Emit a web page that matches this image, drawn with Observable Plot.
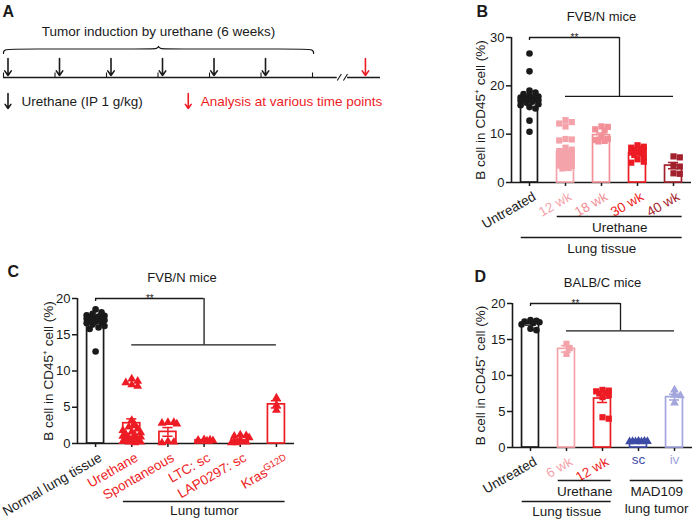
<!DOCTYPE html>
<html>
<head>
<meta charset="utf-8">
<script src="https://cdn.jsdelivr.net/npm/d3@7"></script>
<script src="https://cdn.jsdelivr.net/npm/@observablehq/plot@0.6"></script>
<style>
  body { margin: 0; background: #fff; }
  #root { position: relative; width: 694px; height: 520px; overflow: hidden; background: #fff; }
</style>
</head>
<body>
<div id="root"></div>
<script>
// ================= DATA =================
// Panel A: urethane schedule (weeks)
const injectionWeeks = [0, 1, 2, 3, 4, 5];
const timelineWeeks = [0, 1, 2, 3, 4, 5, 6];
const analysisWeeks = [6.94];
const braceWeeks = [0, 6.02];
const timelineEndWeek = 7.32;
const breakWeek = 6.54;
const aTitle = "Tumor induction by urethane (6 weeks)";
const aLegendLabels = ["Urethane (IP 1 g/kg)", "Analysis at various time points"];

// Panel B: FVB/N mice
const bCategories = ["Untreated", "12 wk", "18 wk", "30 wk", "40 wk"];
const bMeans = [17.3, 6.3, 9.8, 6.1, 3.5];
const bSEM = [0.65, 0.55, 0.45, 0.3, 0.65];
const bUntreated = [26.7, 23.0, 19.0, 18.6, 18.3, 18.0, 17.8, 17.6, 17.5, 17.4, 17.3, 17.2, 17.1, 17.0, 16.9, 16.7, 16.5, 16.2, 16.0, 15.6, 15.3, 12.8, 10.5];
const b12wk = [12.9, 12.5, 12.2, 11.6, 9.0, 8.9, 8.7, 7.2, 6.8, 6.5, 6.3, 6.0, 5.8, 5.6, 5.3, 5.0, 5.0, 4.8, 4.5, 4.4, 4.2, 4.0, 3.9, 3.5, 3.4, 3.2, 3.0, 2.9];
const b18wk = [11.6, 11.5, 11.0, 10.8, 9.3, 9.0, 8.8, 8.6, 8.5];
const b30wk = [7.7, 7.4, 7.2, 7.0, 6.8, 6.6, 6.4, 6.2, 6.0, 5.7, 5.4, 4.8, 4.3, 4.1];
const b40wk = [5.4, 5.2, 3.4, 3.3, 1.9, 1.8];
const bYTicks = [0, 10, 20, 30];
const bGroups = [
  {label: "Urethane", from: 1, to: 4, row: 0},
  {label: "Lung tissue", from: 0, to: 4, row: 1}
];
const bBracket = {top: 30, low: 17.8, from: 1, to: 4};

// Panel C: FVB/N mice, lung tumors
const cCategories = ["Normal lung tissue", "Urethane", "Spontaneous", "LTC: sc", "LAP0297: sc", "Kras"];
const cSuperscripts = ["", "", "", "", "", "G12D"];
const cMeans = [17.0, 2.8, 1.6, 0.45, 0.4, 5.4];
const cSEM = [0.25, 0.6, 0.6, 0.05, 0.15, 0.5];
const cNormal = [18.5, 18.1, 17.9, 17.7, 17.6, 17.5, 17.4, 17.3, 17.2, 17.2, 17.1, 17.0, 17.0, 16.9, 16.8, 16.7, 16.6, 16.4, 16.2, 16.0, 15.8, 12.7];
const cUrethane = [8.9, 8.6, 8.4, 8.1, 7.9, 3.2, 2.6, 2.3, 2.0, 1.8, 1.6, 1.5, 1.3, 1.2, 1.0, 0.9, 0.8, 0.7, 0.6, 0.5, 0.4, 0.3, 0.2, 0.2, 0.1];
const cSpontaneous = [2.9, 2.9, 2.8, 2.7, 0.3, 0.2, 0.1];
const cLTC = [0.55, 0.5, 0.45, 0.4, 0.35];
const cLAP0297 = [1.2, 1.1, 1.0, 0.8, 0.5, 0.3, 0.2, 0.1, 0.1];
const cKras = [6.3, 5.3, 4.6];
const cYTicks = [0, 5, 10, 15, 20];
const cGroups = [{label: "Lung tumor", from: 1, to: 5, row: 0}];
const cBracket = {top: 20, low: 13.6, from: 1, to: 5};

// Panel D: BALB/C mice
const dCategories = ["Untreated", "6 wk", "12 wk", "sc", "iv"];
const dMeans = [17.2, 13.7, 6.8, 0.85, 7.0];
const dSEM = [0.2, 0.45, 0.55, 0.05, 0.4];
const dUntreated = [17.7, 17.6, 17.5, 17.4, 17.3, 17.1, 16.5, 16.3];
const d6wk = [14.4, 13.8, 13.0];
const d12wk = [8.0, 7.9, 7.8, 7.6, 7.5, 7.3, 7.0, 4.2, 4.0];
const dSc = [0.9, 0.9, 0.85, 0.85, 0.8, 0.8, 0.8];
const dIv = [8.0, 7.3, 7.2, 6.2];
const dYTicks = [0, 5, 10, 15, 20];
const dGroups = [
  {label: "Urethane", from: 1, to: 2, row: 0},
  {label: "MAD109\nlung tumor", from: 3, to: 4, row: 0},
  {label: "Lung tissue", from: 0, to: 2, row: 1}
];
const dBracket = {top: 20, low: 16.2, from: 1, to: 4};

const yLabel = "B cell in CD45\u207A cell (%)";

// ================= STYLE =================
const FONT = '"Liberation Sans", Arial, Helvetica, sans-serif';
const INK = "#1a1a1a";
const RED = "#ed1c24";
const PINK_LIGHT = "#f5a3aa";
const PINK = "#f28f97";
const DARK_RED = "#a3212c";
const BLUE = "#3c4ba6";
const LAVENDER = "#a3a6dc";
const TXT = 13.5;
const baseStyle = {fontFamily: FONT, fontSize: "13px", color: INK, background: "transparent", overflow: "visible"};

// ================= HELPERS =================
function swarmOffsets(values, pxPerY, maxPx, r) {
  const order = values.map((_, k) => k).sort((a, b) => values[b] - values[a]);
  const placed = [];
  const off = new Array(values.length).fill(0);
  const stepPx = r * 0.9, minDist = r * 1.45;
  const nSteps = Math.max(1, Math.floor(maxPx / stepPx));
  for (const k of order) {
    const y = values[k] * pxPerY;
    let best = 0, bestD = -1;
    for (let s = 0; s <= 2 * nSteps; s++) {
      const cand = (s % 2 ? 1 : -1) * Math.ceil(s / 2) * stepPx;
      let d = Infinity;
      for (const p of placed) d = Math.min(d, Math.hypot(p.x - cand, p.y - y));
      if (d >= minDist) { best = cand; bestD = Infinity; break; }
      if (d > bestD) { bestD = d; best = cand; }
    }
    placed.push({x: best, y});
    off[k] = best;
  }
  return off;
}

function barPanel(cfg) {
  const {cats, means, sems, points, yMax, yTicks, colors, labelColors, symbols, margin, width, height} = cfg;
  const n = cats.length;
  const innerW = width - margin.left - margin.right;
  const innerH = height - margin.top - margin.bottom;
  const pxX = innerW / n, pxY = innerH / yMax;
  const hw = 0.235, cap = 0.14;
  const rOf = {circle: 3.3, square: 3.5, triangle: 3.3};
  const marks = [];

  marks.push(Plot.axisY({ticks: yTicks, tickSize: 5, tickPadding: 2, fontSize: 13, strokeWidth: 1.5, label: null}));
  marks.push(Plot.axisX({ticks: d3.range(n), tickSize: 4, strokeWidth: 1.5, tickFormat: () => "", label: null}));
  marks.push(Plot.ruleX([-0.5], {y1: 0, y2: yMax, strokeWidth: 1.6}));
  marks.push(Plot.ruleY([0], {x1: -0.5, x2: n - 0.5, strokeWidth: 1.6}));

  // bars
  cats.forEach((c, i) => {
    marks.push(Plot.rect([means[i]], {x1: i - hw, x2: i + hw, y1: 0, y2: d => d, fill: "white", stroke: colors[i], strokeWidth: 1.7}));
  });
  // points
  points.forEach((vals, i) => {
    const r = rOf[symbols[i]];
    const off = swarmOffsets(vals, pxY, cfg.spread, r);
    const data = vals.map((v, k) => ({x: i + off[k] / pxX, y: v}));
    marks.push(Plot.dot(data, {x: "x", y: "y", r, symbol: symbols[i], fill: colors[i], stroke: "none"}));
  });
  // error bars (mean ± SEM)
  cats.forEach((c, i) => {
    const lo = means[i] - sems[i], hi = means[i] + sems[i];
    marks.push(Plot.ruleX([i], {y1: lo, y2: hi, stroke: colors[i], strokeWidth: 1.5}));
    marks.push(Plot.ruleY([lo, hi], {x1: i - cap, x2: i + cap, stroke: colors[i], strokeWidth: 1.5}));
  });
  // significance bracket
  const br = cfg.bracket;
  const mid = (br.from + br.to) / 2;
  marks.push(Plot.ruleY([br.top], {x1: 0, x2: mid, strokeWidth: 1.3}));
  marks.push(Plot.ruleX([0], {y1: br.top, y2: br.top - 3 / pxY, strokeWidth: 1.3}));
  marks.push(Plot.ruleX([mid], {y1: br.top, y2: br.low, strokeWidth: 1.3}));
  marks.push(Plot.ruleY([br.low], {x1: br.from, x2: br.to, strokeWidth: 1.3}));
  marks.push(Plot.text(["**"], {x: mid / 2, y: br.top, text: d => d, lineAnchor: "bottom", dy: 3, fontSize: 10}));

  // category labels
  cats.forEach((c, i) => {
    const hasSup = cfg.superscripts && cfg.superscripts[i];
    if (cfg.rotate[i]) {
      marks.push(Plot.text([c], {x: i, frameAnchor: "bottom", text: d => d, rotate: -30, textAnchor: "end", lineAnchor: "middle",
        dx: cfg.labelDx + (hasSup ? -15 : 0), dy: cfg.labelDy + (hasSup ? 15 : 0), fill: labelColors[i], fontSize: TXT}));
    } else {
      marks.push(Plot.text([c], {x: i, frameAnchor: "bottom", text: d => d, lineAnchor: "middle", dy: 12, fill: labelColors[i], fontSize: TXT}));
    }
    if (hasSup) {
      marks.push(Plot.text([cfg.superscripts[i]], {x: i, frameAnchor: "bottom", text: d => d, rotate: -30, textAnchor: "end", lineAnchor: "middle",
        dx: cfg.labelDx + 4, dy: cfg.labelDy, fill: labelColors[i], fontSize: 9.5}));
    }
  });
  // group annotations below the axis
  cfg.groups.forEach(g => {
    marks.push(Plot.ruleY([0], {x1: g.from - 0.23, x2: g.to + 0.24, dy: cfg.groupLineDy[g.row], strokeWidth: 1.3}));
    marks.push(Plot.text([g.label], {x: (g.from + g.to) / 2 + 0.005, frameAnchor: "bottom", text: d => d, lineAnchor: "top",
      dy: cfg.groupTextDy[g.row] - 7, fontSize: TXT, lineHeight: 1.25}));
  });
  // title, y label, panel letter
  marks.push(Plot.text([cfg.title], {frameAnchor: "top", text: d => d, lineAnchor: "middle", dx: cfg.titleDx || 0, dy: -21, fontSize: 13}));
  marks.push(Plot.text([yLabel], {frameAnchor: "left", text: d => d, rotate: -90, textAnchor: "middle", lineAnchor: "middle", dx: cfg.yLabelDx, fontSize: TXT}));
  marks.push(Plot.text([cfg.letter], {frameAnchor: "top-left", text: d => d, textAnchor: "start", lineAnchor: "top",
    dx: cfg.letterDx, dy: cfg.letterDy, fontSize: 16, fontWeight: "bold"}));

  const svg = Plot.plot({
    width, height,
    marginTop: margin.top, marginRight: margin.right, marginBottom: margin.bottom, marginLeft: margin.left,
    x: {domain: [-0.5, n - 0.5]},
    y: {domain: [0, yMax]},
    style: baseStyle,
    marks
  });
  svg.style.position = "absolute";
  svg.style.left = cfg.left + "px";
  svg.style.top = cfg.top + "px";
  return svg;
}

function timelinePanel() {
  const yTitle = 31, yBraceEnd = 53, yBraceMid = 48.5, yBracePeak = 44.5;
  const yArrowTop = 58, yArrowTip = 75, yTickTop = 72.5, yLine = 77;
  const yLegTop = 93, yLegTip = 108, yLegText = 101;
  const [b0, b1] = braceWeeks;
  const c = (b0 + b1) / 2;
  const brace = [
    [b0, yBraceEnd], [b0, yBraceMid], [b0 + 0.3, yBraceMid], [c - 0.25, yBraceMid], [c, yBraceMid], [c, yBracePeak],
    [c, yBraceMid], [c + 0.25, yBraceMid], [b1 - 0.3, yBraceMid], [b1, yBraceMid], [b1, yBraceEnd]
  ];
  const svg = Plot.plot({
    width: 400, height: 118,
    marginTop: 0, marginBottom: 0, marginLeft: 3, marginRight: 20,
    x: {domain: [0, timelineEndWeek], axis: null},
    y: {domain: [0, 118], range: [0, 118], axis: null},
    style: baseStyle,
    marks: [
      Plot.text(["A"], {frameAnchor: "top-left", text: d => d, textAnchor: "start", lineAnchor: "top", dx: -1, dy: 5, fontSize: 16, fontWeight: "bold"}),
      Plot.text([aTitle], {x: c, y: yTitle, text: d => d, lineAnchor: "middle", fontSize: TXT}),
      Plot.line(brace, {x: d => d[0], y: d => d[1], curve: "basis", strokeWidth: 1.2}),
      Plot.ruleY([yLine], {x1: 0, x2: breakWeek - 0.06, strokeWidth: 1.3}),
      Plot.ruleY([yLine], {x1: breakWeek + 0.14, x2: timelineEndWeek, strokeWidth: 1.3}),
      Plot.link([breakWeek - 0.06, breakWeek + 0.06], {x1: d => d, x2: d => d + 0.08, y1: yLine + 3, y2: yLine - 3.5, strokeWidth: 1.1}),
      Plot.ruleX(timelineWeeks, {y1: yTickTop, y2: yLine, strokeWidth: 1.1}),
      Plot.arrow(injectionWeeks, {x1: d => d, x2: d => d, y1: yArrowTop, y2: yArrowTip, dx: 4.5, stroke: INK, strokeWidth: 1.6, headLength: 6, headAngle: 70}),
      Plot.arrow(analysisWeeks, {x1: d => d, x2: d => d, y1: yArrowTop, y2: yArrowTip, dx: 4.5, stroke: RED, strokeWidth: 1.6, headLength: 6, headAngle: 70}),
      Plot.arrow([0], {x1: d => d, x2: d => d, y1: yLegTop, y2: yLegTip, dx: 4.5, stroke: INK, strokeWidth: 1.6, headLength: 6, headAngle: 70}),
      Plot.text([aLegendLabels[0]], {x: 0, y: yLegText, text: d => d, textAnchor: "start", lineAnchor: "middle", dx: 18, fontSize: TXT, fill: INK}),
      Plot.arrow([3.5], {x1: d => d, x2: d => d, y1: yLegTop, y2: yLegTip, dx: 4.5, stroke: RED, strokeWidth: 1.6, headLength: 6, headAngle: 70}),
      Plot.text([aLegendLabels[1]], {x: 3.5, y: yLegText, text: d => d, textAnchor: "start", lineAnchor: "middle", dx: 17, fontSize: TXT, fill: RED})
    ]
  });
  svg.style.position = "absolute";
  svg.style.left = "0px";
  svg.style.top = "0px";
  return svg;
}

// ================= BUILD =================
const root = document.getElementById("root");
root.appendChild(timelinePanel());

root.appendChild(barPanel({
  letter: "B", title: "FVB/N mice",
  cats: bCategories, means: bMeans, sems: bSEM,
  points: [bUntreated, b12wk, b18wk, b30wk, b40wk],
  yMax: 30, yTicks: bYTicks,
  colors: [INK, PINK_LIGHT, PINK, RED, DARK_RED],
  labelColors: [INK, PINK_LIGHT, PINK, RED, DARK_RED],
  symbols: ["circle", "square", "square", "square", "square"],
  rotate: [true, true, true, true, true],
  groups: bGroups, groupLineDy: [34, 55], groupTextDy: [45, 66],
  bracket: bBracket,
  left: 420, top: 0, width: 274, height: 260,
  margin: {top: 37, right: 3, bottom: 78, left: 91},
  spread: 9, labelDx: 5, labelDy: 13, yLabelDx: -31, letterDx: -35, letterDy: -32
}));

root.appendChild(barPanel({
  letter: "C", title: "FVB/N mice",
  cats: cCategories, means: cMeans, sems: cSEM, superscripts: cSuperscripts,
  points: [cNormal, cUrethane, cSpontaneous, cLTC, cLAP0297, cKras],
  yMax: 20, yTicks: cYTicks,
  colors: [INK, RED, RED, RED, RED, RED],
  labelColors: [INK, RED, RED, RED, RED, RED],
  symbols: ["circle", "triangle", "triangle", "triangle", "triangle", "triangle"],
  rotate: [true, true, true, true, true, true],
  groups: cGroups, groupLineDy: [58], groupTextDy: [67],
  bracket: cBracket,
  left: 0, top: 260, width: 300, height: 260,
  margin: {top: 38, right: 6, bottom: 77, left: 77},
  spread: 9, labelDx: 5, labelDy: 13, yLabelDx: -29, letterDx: -70, letterDy: -33, titleDx: -4
}));

root.appendChild(barPanel({
  letter: "D", title: "BALB/C mice",
  cats: dCategories, means: dMeans, sems: dSEM,
  points: [dUntreated, d6wk, d12wk, dSc, dIv],
  yMax: 20, yTicks: dYTicks,
  colors: [INK, PINK_LIGHT, RED, BLUE, LAVENDER],
  labelColors: [INK, PINK_LIGHT, RED, BLUE, LAVENDER],
  symbols: ["circle", "square", "square", "triangle", "triangle"],
  rotate: [true, true, true, false, false],
  groups: dGroups, groupLineDy: [33, 54], groupTextDy: [44, 64],
  bracket: dBracket,
  left: 420, top: 260, width: 274, height: 260,
  margin: {top: 43, right: 2, bottom: 73, left: 92},
  spread: 9, labelDx: 5, labelDy: 13, yLabelDx: -32, letterDx: -38, letterDy: -33
}));
</script>
</body>
</html>
